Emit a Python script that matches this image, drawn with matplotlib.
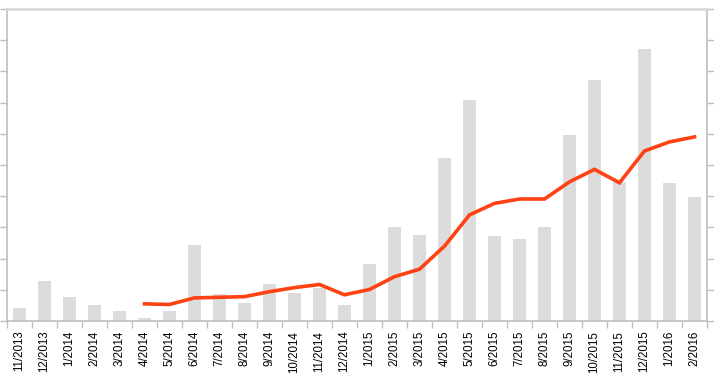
import matplotlib
matplotlib.use("Agg")
import matplotlib.pyplot as plt
import numpy as np

months = ["11/2013", "12/2013", "1/2014", "2/2014", "3/2014", "4/2014", "5/2014",
          "6/2014", "7/2014", "8/2014", "9/2014", "10/2014", "11/2014", "12/2014",
          "1/2015", "2/2015", "3/2015", "4/2015", "5/2015", "6/2015", "7/2015",
          "8/2015", "9/2015", "10/2015", "11/2015", "12/2015", "1/2016", "2/2016"]

bar_values = [0.42, 1.28, 0.77, 0.51, 0.32, 0.11, 0.31, 2.45, 0.86, 0.58, 1.19, 0.89,
              1.06, 0.50, 1.84, 3.01, 2.75, 5.22, 7.07, 2.72, 2.62, 3.01, 5.95, 7.72,
              4.44, 8.72, 4.42, 3.97]

line_values = [None, None, None, None, None, 0.55, 0.53, 0.74, 0.76, 0.78, 0.94, 1.07,
               1.17, 0.84, 1.01, 1.42, 1.66, 2.40, 3.40, 3.77, 3.91, 3.91, 4.46, 4.86,
               4.43, 5.45, 5.74, 5.90]

fig = plt.figure(figsize=(7.14, 3.75), dpi=100)
ax = fig.add_axes([7/714, (375-321)/375, 700/714, 312/375])

x = np.arange(len(months))
ax.bar(x, bar_values, width=0.5, color="#dcdcdc", zorder=1)
ly = np.array([np.nan if v is None else v for v in line_values], dtype=float)
ax.plot(x, ly, color="#ff4213", lw=2.6, solid_joinstyle="miter", zorder=3)

ax.set_xlim(-0.5, len(months) - 0.5)
ax.set_ylim(0, 10)

# category boundaries as major ticks, labels at centers
ax.set_xticks(np.arange(-0.5, len(months), 1.0))
ax.set_xticklabels([])
ax.set_xticks(x, minor=True)
ax.set_xticklabels(months, minor=True, rotation=90, fontsize=8.3,
                   family=["Liberation Sans", "DejaVu Sans"], color="#000000")
ax.tick_params(axis="x", which="major", direction="out", length=5, color="#bfbfbf", width=1)
ax.tick_params(axis="x", which="minor", length=0, pad=7)

ax.set_yticks(np.arange(0, 11, 1))
ax.set_yticklabels([])
ax.tick_params(axis="y", which="major", direction="out", length=5, color="#bfbfbf",
               width=1, left=True, right=True)

for s in ["left", "right", "bottom"]:
    ax.spines[s].set_color("#bfbfbf")
    ax.spines[s].set_linewidth(1.2)
ax.spines["top"].set_color("#d9d9d9")
ax.spines["top"].set_linewidth(2)

fig.savefig("out.png", dpi=100)
